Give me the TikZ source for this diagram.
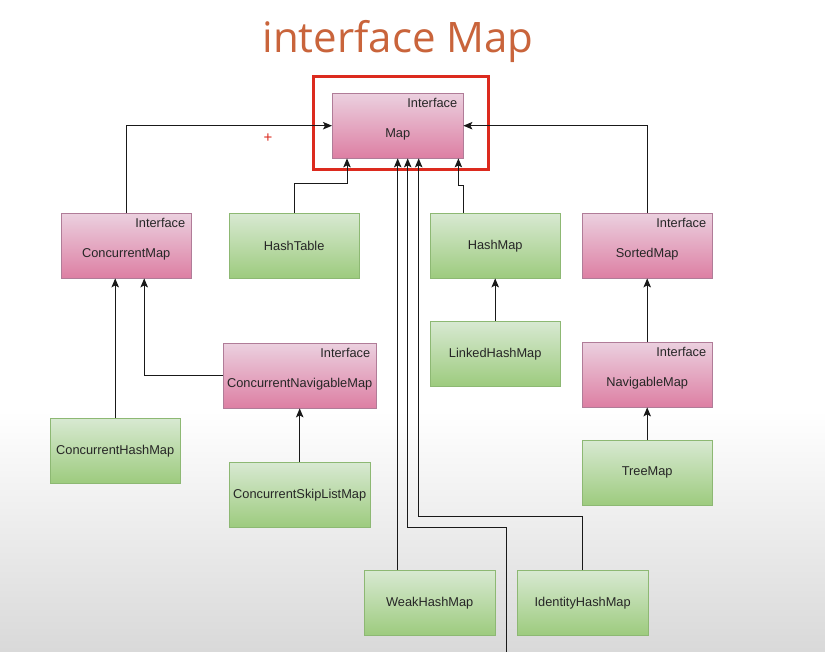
\documentclass[tikz,border=0pt]{standalone}
\usepackage{fontspec}
\setmainfont{Liberation Sans}
\newfontfamily\titlefont{Open Sans}
\usetikzlibrary{arrows.meta,positioning}

\definecolor{pinktop}{HTML}{EBD0DF}
\definecolor{pinkbot}{HTML}{DD7FA3}
\definecolor{pinkline}{HTML}{B07C98}
\definecolor{greentop}{HTML}{D8E9D2}
\definecolor{greenbot}{HTML}{9DCB7E}
\definecolor{greenline}{HTML}{8DB873}
\definecolor{titleorange}{HTML}{C9643B}
\definecolor{hlred}{HTML}{DC2A1E}

\begin{document}
\begin{tikzpicture}[
    x=1pt, y=-1pt,
    box/.style={draw, anchor=north west, minimum width=130pt, minimum height=65pt, inner sep=2pt,
      font=\fontsize{12.8}{15}\selectfont, text=black!85},
    cls/.style={box, draw=greenline, top color=greentop, bottom color=greenbot},
    iface/.style={box, draw=pinkline, top color=pinktop, bottom color=pinkbot,
      text height=2.65em, text depth=.25em,
      label={[anchor=north east, inner sep=0pt, xshift=-6pt, yshift=-5.5pt,
        font=\fontsize{12.8}{15}\selectfont, text=black!85]north east:Interface}},
    arrow/.style={-{Stealth[length=9pt, width=7.5pt, inset=2pt]}, draw=black!90, line width=1pt}
  ]
    % page and grey fade at the bottom
    \useasboundingbox (0,0) rectangle (825,652);
    \fill[white] (0,0) rectangle (825,652);
    \shade[top color=white, bottom color=black!15] (0,410) rectangle (825,652);

    \node[font=\titlefont\fontsize{42}{48}\selectfont, text=titleorange, anchor=base] (title) at (398,53) {interface Map};

    % interfaces
    \node[iface, minimum width=131pt] (map) at (332,93) {Map};
    \node[iface] (cmap) at (61,213) {ConcurrentMap};
    \node[iface] (smap) at (582,213) {SortedMap};
    \node[iface, minimum width=153pt] (cnmap) at (223,343) {ConcurrentNavigableMap};
    \node[iface] (nmap) at (582,342) {NavigableMap};

    % classes
    \node[cls] (htab) at (229,213) {HashTable};
    \node[cls] (hmap) at (430,213) {HashMap};
    \node[cls] (lhmap) at (430,321) {LinkedHashMap};
    \node[cls] (chmap) at (50,418) {ConcurrentHashMap};
    \node[cls, minimum width=141pt] (cslmap) at (229,462) {ConcurrentSkipListMap};
    \node[cls] (tmap) at (582,440) {TreeMap};
    \node[cls, minimum width=131pt] (whmap) at (364,570) {WeakHashMap};
    \node[cls, minimum width=131pt] (ihmap) at (517,570) {IdentityHashMap};
    \coordinate (offpage) at (506,652);

    % highlight round Map
    \node[draw=hlred, line width=3pt, anchor=north west, minimum width=175pt, minimum height=93pt] (hl) at (312,75) {};
    \node[text=hlred, font=\fontsize{15}{15}\selectfont] (plus) at (268,138) {+};

    \draw[arrow] (cmap.north) |- (map.west);
    \draw[arrow] (smap.north) |- (map.east);
    \draw[arrow] (htab.north) -- ++(0,-29) -| ([xshift=15pt]map.south west);
    \draw[arrow] ([xshift=33pt]hmap.north west) -- ++(0,-27) -| ([xshift=-5pt]map.south east);
    \draw[arrow] (map.south |- whmap.north) -- (map.south);
    \draw[arrow] (offpage) -- ++(0,-125) -| ([xshift=10pt]map.south);
    \draw[arrow] (ihmap.north) -- ++(0,-54) -| ([xshift=21pt]map.south);
    \draw[arrow] (lhmap) -- (hmap);
    \draw[arrow] (nmap) -- (smap);
    \draw[arrow] (tmap) -- (nmap);
    \draw[arrow] ([xshift=-11pt]cmap.south |- chmap.north) -- ([xshift=-11pt]cmap.south);
    \draw[arrow] (cnmap.west) -| ([xshift=18pt]cmap.south);
    \draw[arrow] (cslmap) -- (cnmap);
  \end{tikzpicture}
\end{document}
